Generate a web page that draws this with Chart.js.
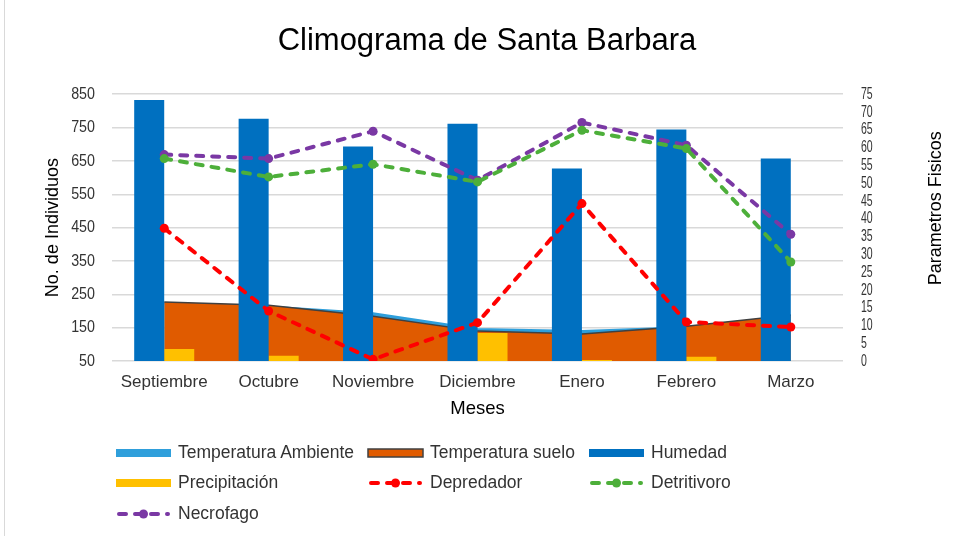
<!DOCTYPE html>
<html>
<head>
<meta charset="utf-8">
<script src="https://cdn.jsdelivr.net/npm/chart.js@4.4.1/dist/chart.umd.min.js"></script>
<style>
  html, body { margin: 0; padding: 0; background: #fff; }
  #wrap { position: relative; width: 955px; height: 536px; overflow: hidden; }
  #frame { position: absolute; left: 4px; top: 0; width: 1px; height: 536px; background: #d9d9d9; }
  .item { position: absolute; display: flex; align-items: center; font: 17.5px 'Liberation Sans', Arial, sans-serif; color: #333; white-space: nowrap; }
  .item svg { margin-right: 6px; }
</style>
</head>
<body>
<div id="wrap">
  <canvas id="chart" width="955" height="536"></canvas>
  <div id="frame"></div>
  <div id="legend"></div>
</div>
<script>
const months = ['Septiembre', 'Octubre', 'Noviembre', 'Diciembre', 'Enero', 'Febrero', 'Marzo'];

// physical parameters (right axis)
const tempAmbiente = [16.2, 15.3, 13.4, 9.0, 8.4, 9.5, 12.5];
const tempSuelo = [16.6, 15.7, 12.6, 8.4, 7.6, 9.8, 12.9];
const humedad = [73.4, 68.1, 60.3, 66.7, 54.1, 65.1, 56.9];
const precipitacion = [3.4, 1.5, 0, 7.9, 0.3, 1.2, 0];

// individuals (left axis)
const depredador = [448, 200, 55, 165, 522, 167, 152];
const detritivoro = [657, 602, 640, 587, 742, 687, 347];
const necrofago = [669, 657, 739, 592, 765, 697, 430];

const leftTicks = [50, 150, 250, 350, 450, 550, 650, 750, 850];
const rightTicks = [0, 5, 10, 15, 20, 25, 30, 35, 40, 45, 50, 55, 60, 65, 70, 75];

const sans = "'Liberation Sans', Arial, sans-serif";

function dashLine(label, data, color) {
    return {
        type: 'line',
        label: label,
        data: data,
        yAxisID: 'y',
        order: 1,
        borderColor: color,
        backgroundColor: color,
        borderWidth: 4,
        borderDash: [7, 9],
        borderCapStyle: 'round',
        tension: 0,
        fill: false,
        pointRadius: 4.5,
        pointBorderWidth: 0,
        pointBackgroundColor: color
    };
}

const datasets = [
    {
        type: 'line', label: 'Temperatura Ambiente', data: tempAmbiente, yAxisID: 'y1', order: 5,
        borderColor: '#2f9fdb', borderWidth: 2, backgroundColor: '#2f9fdb',
        fill: 'start', pointRadius: 0, tension: 0
    },
    {
        type: 'line', label: 'Temperatura suelo', data: tempSuelo, yAxisID: 'y1', order: 4,
        borderColor: '#404040', borderWidth: 1.5, backgroundColor: '#e05b00',
        fill: 'start', pointRadius: 0, tension: 0
    },
    {
        type: 'bar', label: 'Humedad', data: humedad, yAxisID: 'y1', order: 3,
        backgroundColor: '#0070c0', categoryPercentage: 0.575, barPercentage: 1
    },
    {
        type: 'bar', label: 'Precipitación', data: precipitacion, yAxisID: 'y1', order: 3,
        backgroundColor: '#ffc000', categoryPercentage: 0.575, barPercentage: 1
    },
    dashLine('Depredador', depredador, '#ff0000'),
    dashLine('Detritivoro', detritivoro, '#4daf3a'),
    dashLine('Necrofago', necrofago, '#7a38a4')
];

// the original uses a narrow face for the value axes: draw those labels squeezed
const narrowTicks = {
    id: 'narrowTicks',
    afterDraw(chart) {
        const c = chart.ctx;
        const sets = [
            { scale: chart.scales.y, x: chart.chartArea.left - 17, align: 'right', size: 17, sx: 0.84 },
            { scale: chart.scales.y1, x: chart.chartArea.right + 18, align: 'left', size: 17, sx: 0.62 }
        ];
        sets.forEach(s => {
            c.save();
            c.font = s.size + 'px ' + sans;
            c.fillStyle = '#333';
            c.textAlign = s.align;
            c.textBaseline = 'middle';
            s.scale.ticks.forEach(t => {
                c.save();
                c.translate(s.x, s.scale.getPixelForValue(t.value));
                c.scale(s.sx, 1);
                c.fillText(String(t.value), 0, 0);
                c.restore();
            });
            c.restore();
        });

        // rotated title of the right axis, reading bottom to top
        c.save();
        c.font = '18px ' + sans;
        c.fillStyle = '#000';
        c.textAlign = 'center';
        c.textBaseline = 'middle';
        c.translate(chart.chartArea.right + 93, chart.chartArea.top + 114);
        c.rotate(-Math.PI / 2);
        c.fillText('Parametros Fisicos', 0, 0);
        c.restore();
    }
};

new Chart(document.getElementById('chart'), {
    type: 'bar',
    data: { labels: months, datasets: datasets },
    options: {
        responsive: false,
        animation: false,
        layout: { padding: { top: 0, bottom: 115, left: 19, right: 0 } },
        plugins: {
            legend: { display: false },
            tooltip: { enabled: false },
            title: {
                display: true,
                text: 'Climograma de Santa Barbara',
                color: '#000',
                font: { family: sans, size: 31, weight: 'normal' },
                padding: { top: 23, bottom: 34 }
            }
        },
        scales: {
            x: {
                offset: true,
                grid: { display: false, drawTicks: false },
                border: { display: false },
                ticks: { color: '#333', font: { family: sans, size: 17 }, padding: 11 },
                title: { display: true, text: 'Meses', color: '#000', font: { family: sans, size: 18.5 }, padding: { top: 0, bottom: 1 } },
                afterFit: s => { s.height = 60; }
            },
            y: {
                position: 'left',
                min: 50,
                max: 850,
                afterBuildTicks: s => { s.ticks = leftTicks.map(v => ({ value: v })); },
                grid: { color: '#d9d9d9', lineWidth: 1.5, drawTicks: false },
                border: { display: false },
                ticks: { display: false },
                title: { display: true, text: 'No. de Individuos', color: '#000', font: { family: sans, size: 18 }, padding: { top: 23, bottom: 0 } },
                afterFit: s => { s.width = 93; }
            },
            y1: {
                position: 'right',
                min: 0,
                max: 75,
                afterBuildTicks: s => { s.ticks = rightTicks.map(v => ({ value: v })); },
                grid: { display: false, drawTicks: false },
                border: { display: false },
                ticks: { display: false },
                afterFit: s => { s.width = 112; }
            }
        }
    },
    plugins: [narrowTicks]
});

// legend laid out in three columns like the original
const legendCols = [115, 367, 588];
const legendRows = [452, 482, 513];
const legend = document.getElementById('legend');

function swatch(ds) {
    if (ds.type === 'bar' || ds.fill) {
        const stroke = ds.label === 'Temperatura suelo' ? ' stroke="#404040" stroke-width="1.5"' : '';
        return '<svg width="57" height="14"><rect x="1" y="3" width="55" height="8" fill="' + ds.backgroundColor + '"' + stroke + '/></svg>';
    }
    return '<svg width="57" height="14"><line x1="4" y1="7" x2="53" y2="7" stroke="' + ds.borderColor +
        '" stroke-width="4" stroke-linecap="round" stroke-dasharray="7 9"/><circle cx="28.5" cy="7" r="4.5" fill="' + ds.borderColor + '"/></svg>';
}

datasets.forEach((ds, i) => {
    const el = document.createElement('div');
    el.className = 'item';
    el.style.left = legendCols[i % 3] + 'px';
    el.style.top = (legendRows[Math.floor(i / 3)] - 10) + 'px';
    el.innerHTML = swatch(ds) + '<span>' + ds.label + '</span>';
    legend.appendChild(el);
});
</script>
</body>
</html>
